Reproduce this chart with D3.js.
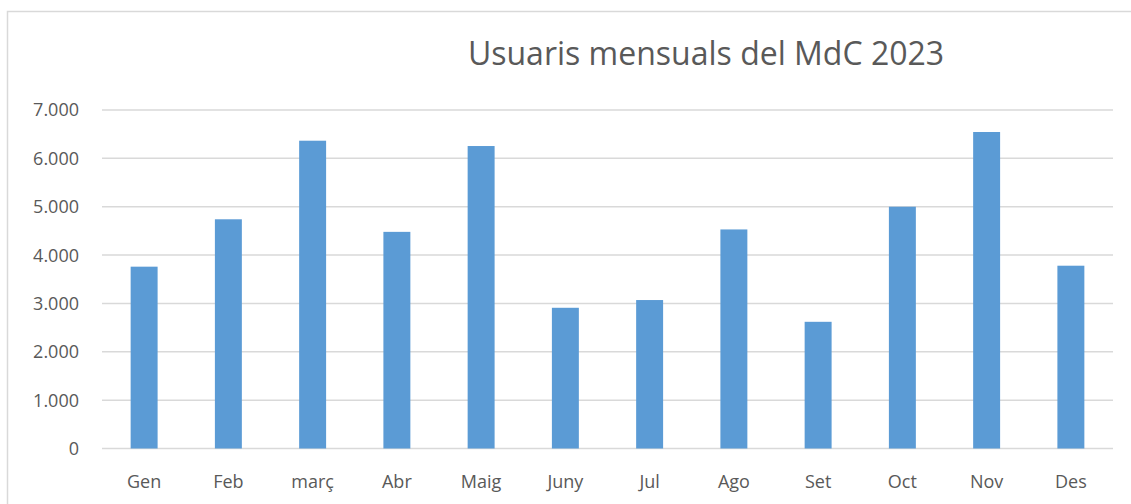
<!DOCTYPE html>
<html lang="ca">
<head>
<meta charset="UTF-8">
<script src="https://d3js.org/d3.v7.min.js"></script>
<style>
  body { margin: 0; background: #fff; }
  svg text { font-family: "Open Sans", "Noto Sans", sans-serif; fill: #595959; }
</style>
</head>
<body>
<svg id="chart" width="1131" height="504"></svg>
<script>
// monthly users, 2023
const months = ["Gen", "Feb", "març", "Abr", "Maig", "Juny", "Jul", "Ago", "Set", "Oct", "Nov", "Des"];
const users = [3760, 4740, 6365, 4480, 6255, 2910, 3070, 4530, 2620, 5000, 6545, 3780];
const yTicks = [0, 1000, 2000, 3000, 4000, 5000, 6000, 7000];
const title = "Usuaris mensuals del MdC 2023";

const svg = d3.select("#chart");

// chart frame (cut off at right and bottom like the screenshot)
svg.append("rect")
    .attr("x", 7.5).attr("y", 11.5)
    .attr("width", 1200).attr("height", 600)
    .attr("fill", "none")
    .attr("stroke", "#d9d9d9")
    .attr("stroke-width", 1.5);

const margin = { left: 102, right: 1113, top: 110, bottom: 448.5 };

const x = d3.scaleBand()
    .domain(months)
    .range([margin.left, margin.right])
    .paddingInner(0.68)
    .paddingOuter(0.34);

const y = d3.scaleLinear()
    .domain([0, 7000])
    .range([margin.bottom, margin.top]);

// gridlines
svg.append("g")
    .selectAll("line")
    .data(yTicks)
    .join("line")
    .attr("x1", margin.left)
    .attr("x2", margin.right)
    .attr("y1", d => y(d))
    .attr("y2", d => y(d))
    .attr("stroke", "#d9d9d9")
    .attr("stroke-width", 1.5);

// y labels
const fmt = d => d3.format(",")(d).replace(/,/g, ".");
svg.append("g")
    .selectAll("text")
    .data(yTicks)
    .join("text")
    .attr("x", 79)
    .attr("y", d => y(d))
    .attr("dy", "0.36em")
    .attr("text-anchor", "end")
    .style("font-size", "18px")
    .text(fmt);

// bars
svg.append("g")
    .selectAll("rect")
    .data(months)
    .join("rect")
    .attr("x", d => x(d))
    .attr("width", x.bandwidth())
    .attr("y", (d, i) => y(users[i]))
    .attr("height", (d, i) => y(0) - y(users[i]))
    .attr("fill", "#5b9bd5");

// x labels
svg.append("g")
    .selectAll("text")
    .data(months)
    .join("text")
    .attr("x", d => x(d) + x.bandwidth() / 2)
    .attr("y", 488)
    .attr("text-anchor", "middle")
    .style("font-size", "18px")
    .text(d => d);

svg.append("text")
    .attr("x", 706)
    .attr("y", 65)
    .attr("text-anchor", "middle")
    .style("font-size", "32px")
    .text(title);
</script>
</body>
</html>
